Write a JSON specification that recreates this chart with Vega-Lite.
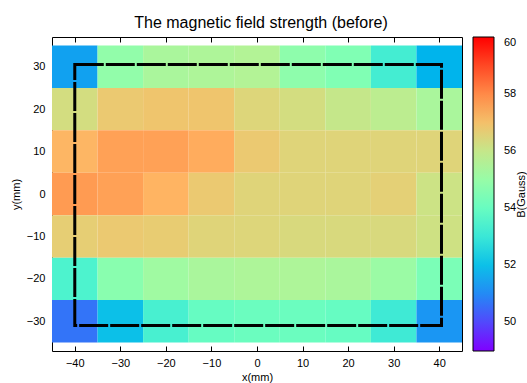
{
  "$schema": "https://vega.github.io/schema/vega-lite/v6.json",
  "width": 410,
  "height": 314,
  "autosize": "none",
  "padding": {"left": 52, "top": 37, "right": 65, "bottom": 32},
  "config": {
    "font": "Liberation Sans",
    "view": {"stroke": "black", "strokeWidth": 1, "fill": "white"},
    "axis": {
      "domain": false,
      "grid": false,
      "tickColor": "black",
      "tickWidth": 1,
      "tickSize": -5,
      "labelFontSize": 11,
      "labelColor": "black",
      "titleFontSize": 11,
      "titleFontWeight": "normal",
      "titleColor": "black"
    }
  },
  "title": {
    "text": "The magnetic field strength (before)",
    "fontSize": 16,
    "fontWeight": "normal",
    "font": "Liberation Sans",
    "color": "black",
    "anchor": "middle",
    "offset": 6,
    "dx": 4
  },
  "layer": [
    {
      "data": {
        "values": [
          {"x": -40, "y": 30, "B": 51.4}, {"x": -30, "y": 30, "B": 54.9}, {"x": -20, "y": 30, "B": 55.4}, {"x": -10, "y": 30, "B": 55.5}, {"x": 0, "y": 30, "B": 55.6}, {"x": 10, "y": 30, "B": 54.8}, {"x": 20, "y": 30, "B": 54.5}, {"x": 30, "y": 30, "B": 53.2}, {"x": 40, "y": 30, "B": 51.75},
          {"x": -40, "y": 20, "B": 56.3}, {"x": -30, "y": 20, "B": 56.8}, {"x": -20, "y": 20, "B": 56.9}, {"x": -10, "y": 20, "B": 56.9}, {"x": 0, "y": 20, "B": 56.5}, {"x": 10, "y": 20, "B": 56.3}, {"x": 20, "y": 20, "B": 56.0}, {"x": 30, "y": 20, "B": 55.8}, {"x": 40, "y": 20, "B": 55.4},
          {"x": -40, "y": 10, "B": 57.2}, {"x": -30, "y": 10, "B": 57.6}, {"x": -20, "y": 10, "B": 57.6}, {"x": -10, "y": 10, "B": 57.4}, {"x": 0, "y": 10, "B": 56.8}, {"x": 10, "y": 10, "B": 56.55}, {"x": 20, "y": 10, "B": 56.55}, {"x": 30, "y": 10, "B": 56.55}, {"x": 40, "y": 10, "B": 56.55},
          {"x": -40, "y": 0, "B": 57.7}, {"x": -30, "y": 0, "B": 57.6}, {"x": -20, "y": 0, "B": 57.25}, {"x": -10, "y": 0, "B": 56.8}, {"x": 0, "y": 0, "B": 56.55}, {"x": 10, "y": 0, "B": 56.55}, {"x": 20, "y": 0, "B": 56.55}, {"x": 30, "y": 0, "B": 56.65}, {"x": 40, "y": 0, "B": 56.15},
          {"x": -40, "y": -10, "B": 56.7}, {"x": -30, "y": -10, "B": 56.8}, {"x": -20, "y": -10, "B": 56.75}, {"x": -10, "y": -10, "B": 56.55}, {"x": 0, "y": -10, "B": 56.5}, {"x": 10, "y": -10, "B": 56.4}, {"x": 20, "y": -10, "B": 56.4}, {"x": 30, "y": -10, "B": 56.4}, {"x": 40, "y": -10, "B": 56.2},
          {"x": -40, "y": -20, "B": 53.4}, {"x": -30, "y": -20, "B": 54.7}, {"x": -20, "y": -20, "B": 55.2}, {"x": -10, "y": -20, "B": 55.4}, {"x": 0, "y": -20, "B": 55.5}, {"x": 10, "y": -20, "B": 55.5}, {"x": 20, "y": -20, "B": 55.4}, {"x": 30, "y": -20, "B": 55.1}, {"x": 40, "y": -20, "B": 54.4},
          {"x": -40, "y": -30, "B": 50.65}, {"x": -30, "y": -30, "B": 52.0}, {"x": -20, "y": -30, "B": 53.3}, {"x": -10, "y": -30, "B": 53.95}, {"x": 0, "y": -30, "B": 54.05}, {"x": 10, "y": -30, "B": 54.05}, {"x": 20, "y": -30, "B": 53.95}, {"x": 30, "y": -30, "B": 53.1}, {"x": 40, "y": -30, "B": 51.2}
        ]
      },
      "transform": [
        {"calculate": "datum.x - 5", "as": "x0"},
        {"calculate": "datum.x + 5", "as": "x1"},
        {"calculate": "datum.y - 5", "as": "y0"},
        {"calculate": "datum.y + 5", "as": "y1"}
      ],
      "mark": {"type": "rect", "strokeWidth": 0},
      "encoding": {
        "x": {
          "field": "x0", "type": "quantitative",
          "scale": {"domain": [-45, 45], "nice": false, "zero": false},
          "axis": {"orient": "bottom", "values": [-40, -30, -20, -10, 0, 10, 20, 30, 40], "title": "x(mm)", "labelPadding": 11, "titleY": 20}
        },
        "x2": {"field": "x1"},
        "y": {
          "field": "y0", "type": "quantitative",
          "scale": {"domain": [-37, 37], "nice": false, "zero": false},
          "axis": {"orient": "left", "values": [-30, -20, -10, 0, 10, 20, 30], "title": "y(mm)", "labelPadding": 12, "titleX": -31}
        },
        "y2": {"field": "y1"},
        "color": {
          "field": "B", "type": "quantitative",
          "scale": {
            "domain": [49, 49.55, 50.1, 50.65, 51.2, 51.75, 52.3, 52.85, 53.4, 53.95, 54.5, 55.05, 55.6, 56.15, 56.7, 57.25, 57.8, 58.35, 58.9, 59.45, 60],
            "range": ["#8000ff", "#6628fe", "#4d4ffc", "#3374f8", "#1a96f3", "#00b4ec", "#1acee3", "#33e3da", "#4df3ce", "#66fcc2", "#80ffb4", "#99fca6", "#b3f396", "#cce385", "#e6ce74", "#ffb462", "#ff964f", "#ff743b", "#ff4f28", "#ff2814", "#ff0000"],
            "interpolate": "rgb"
          },
          "legend": {
            "type": "gradient",
            "direction": "vertical",
            "orient": "none",
            "legendX": 421,
            "legendY": 0,
            "padding": 0,
            "values": [50, 52, 54, 56, 58, 60],
            "gradientLength": 314,
            "gradientThickness": 21,
            "gradientStrokeColor": "black",
            "gradientStrokeWidth": 1,
            "labelFontSize": 11,
            "labelColor": "black",
            "labelOffset": 10,
            "labelBaseline": "middle",
            "labelOverlap": false,
            "title": null
          }
        }
      }
    },
    {
      "data": {"values": [{"xa": -40, "xb": 40.5, "ya": -31, "yb": 30.5}]},
      "mark": {"type": "rect", "filled": false, "fill": null, "stroke": "black", "strokeWidth": 3, "strokeDash": [29, 2]},
      "encoding": {
        "x": {"field": "xa", "type": "quantitative", "axis": {"orient": "top", "values": [-40, -30, -20, -10, 0, 10, 20, 30, 40], "labels": false, "title": null}},
        "x2": {"field": "xb"},
        "y": {"field": "ya", "type": "quantitative", "axis": {"orient": "right", "values": [-30, -20, -10, 0, 10, 20, 30], "labels": false, "title": "B(Gauss)", "titleAngle": 270, "titleX": 59.5, "titleY": 157, "titleAlign": "center", "titleBaseline": "middle"}},
        "y2": {"field": "yb"}
      }
    }
  ],
  "resolve": {"axis": {"x": "independent", "y": "independent"}}
}
